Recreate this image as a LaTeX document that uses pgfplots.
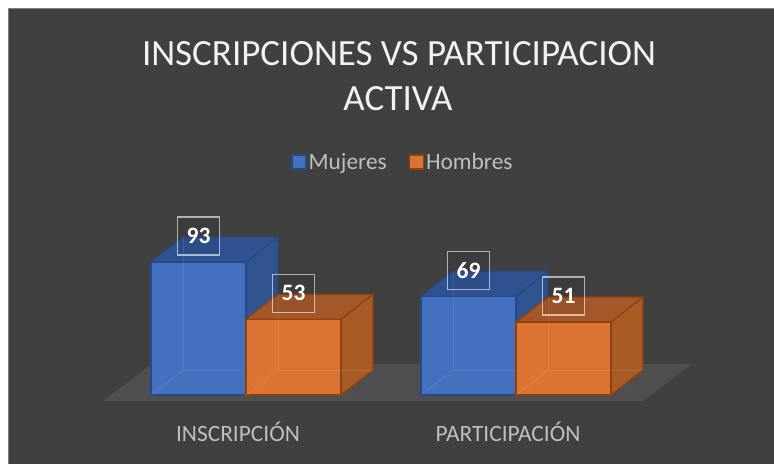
\documentclass[border=0pt]{standalone}
\usepackage{pgfplots}
\pgfplotsset{compat=1.18}
\usepackage{pgfplotstable}
\usepackage{fontspec}
\setmainfont{Carlito}
\definecolor{bg}{HTML}{404040}
\definecolor{floorc}{HTML}{4F4F4F}
\definecolor{bluef}{HTML}{4371BF}
\definecolor{blues}{HTML}{30548F}
\definecolor{bluet}{HTML}{2F5290}
\definecolor{blueb}{HTML}{264A85}
\definecolor{orangef}{HTML}{DB7432}
\definecolor{oranges}{HTML}{A95B25}
\definecolor{oranget}{HTML}{A4582A}
\definecolor{orangeb}{HTML}{8E420F}
\definecolor{labgray}{HTML}{BFBFBF}
\definecolor{titlec}{HTML}{F2F2F2}

\pgfplotstableread{
cat muj hom
0 93 53
1 69 51
}\datatab

\pgfdeclareplotmark{nothing}{}

\begin{document}
\begin{tikzpicture}
\useasboundingbox (0pt,0pt) rectangle (774pt,-464pt);
\fill[white] (0pt,0pt) rectangle (774pt,-464pt);
\fill[bg] (9pt,-9pt) rectangle (774pt,-464pt);
\draw[gray, line width=1pt] (8.5pt,-464pt) -- (8.5pt,-8.5pt) -- (774pt,-8.5pt);
% floor
\fill[floorc] (103pt,-401pt) -- (643pt,-401pt) -- (692pt,-364pt) -- (152pt,-364pt) -- cycle;
% title
\node[text=titlec, font=\fontsize{37}{45}\selectfont] at (399pt,-54pt) {INSCRIPCIONES VS PARTICIPACION};
\node[text=titlec, font=\fontsize{37}{45}\selectfont] at (398pt,-99pt) {ACTIVA};

\begin{axis}[
  anchor=origin, at={(246pt,-395pt)},
  x=270pt, y=1.43pt,
  xmin=-0.7, xmax=1.7, ymin=0, ymax=110,
  clip=false, clip marker paths=true,
  axis line style={draw=none},
  major tick length=0pt,
  ytick=\empty,
  xtick={0,1},
  xticklabels={INSCRIPCIÓN, PARTICIPACIÓN},
  xticklabel style={font=\fontsize{23.4}{28}\selectfont, text=labgray, anchor=center, xshift=-8pt, yshift=-37pt},
  legend style={at={(axis cs:0.5815,163)}, anchor=center, draw=none, fill=none,
    text=labgray, font=\fontsize{23.4}{28}\selectfont, inner sep=0pt,
    /tikz/every even column/.append style={column sep=20pt}},
  legend columns=2,
  legend image code/.code={\draw[#1, line width=1.2pt] (0pt,-7pt) rectangle (14pt,7pt);},
  /pgf/number format/assume math mode=true,
  nodes near coords style={font=\bfseries\fontsize{23.5}{28}\selectfont, text=white,
    draw=white, draw opacity=0.6, line width=1.4pt, fill=black, fill opacity=0.06, text opacity=1,
    minimum width=42pt, minimum height=38pt, inner sep=0pt, anchor=center, yshift=26pt},
]
% Mujeres: side and top faces
\addplot[forget plot, scatter, only marks, mark=nothing,
  visualization depends on={\thisrow{muj} \as \val},
  scatter/@pre marker code/.code={%
    \pgfmathsetmacro\h{\val*1.43}%
    \filldraw[fill=blues, draw=blueb, line width=1.2pt, line join=round]
      (0pt,0pt) -- (32pt,25pt) -- ({32pt},{25pt-\h pt}) -- ({0pt},{-\h pt}) -- cycle;
    \filldraw[fill=bluet, draw=blueb, line width=1.2pt, line join=round]
      (0pt,0pt) -- (-95pt,0pt) -- (-63pt,25pt) -- (32pt,25pt) -- cycle;
  },
  scatter/@post marker code/.code={}]
  table[x=cat, y=muj]{\datatab};
% Mujeres: front face
\addplot[ybar, bar width=95pt, bar shift=-47.5pt, fill=bluef, draw=blueb, line width=1.2pt,
  nodes near coords, every node near coord/.append style={xshift=-47.5pt}]
  table[x=cat, y=muj]{\datatab};
\addlegendentry{Mujeres}
% Mujeres: hidden edges seen through the translucent box
\addplot[forget plot, scatter, only marks, mark=nothing,
  visualization depends on={\thisrow{muj} \as \val},
  scatter/@pre marker code/.code={%
    \pgfmathsetmacro\h{\val*1.43}%
    \draw[white, opacity=0.09, line width=1pt]
      (-63pt,25pt) -- ({-63pt},{25pt-\h pt}) -- ({32pt},{25pt-\h pt});
    \draw[white, opacity=0.09, line width=1pt]
      ({-95pt},{-\h pt}) -- ({-63pt},{25pt-\h pt});
  },
  scatter/@post marker code/.code={}]
  table[x=cat, y=muj]{\datatab};
% Hombres: side and top faces
\addplot[forget plot, scatter, only marks, mark=nothing,
  visualization depends on={\thisrow{hom} \as \val},
  scatter/@pre marker code/.code={%
    \pgfmathsetmacro\h{\val*1.43}%
    \filldraw[fill=oranges, draw=orangeb, line width=1.2pt, line join=round]
      (95pt,0pt) -- (127pt,25pt) -- ({127pt},{25pt-\h pt}) -- ({95pt},{-\h pt}) -- cycle;
    \filldraw[fill=oranget, draw=orangeb, line width=1.2pt, line join=round]
      (0pt,0pt) -- (95pt,0pt) -- (127pt,25pt) -- (32pt,25pt) -- cycle;
  },
  scatter/@post marker code/.code={}]
  table[x=cat, y=hom]{\datatab};
% Hombres: front face
\addplot[ybar, bar width=95pt, bar shift=47.5pt, fill=orangef, draw=orangeb, line width=1.2pt,
  nodes near coords, every node near coord/.append style={xshift=47.5pt}]
  table[x=cat, y=hom]{\datatab};
\addlegendentry{Hombres}
% Hombres: hidden edges
\addplot[forget plot, scatter, only marks, mark=nothing,
  visualization depends on={\thisrow{hom} \as \val},
  scatter/@pre marker code/.code={%
    \pgfmathsetmacro\h{\val*1.43}%
    \draw[white, opacity=0.09, line width=1pt]
      (32pt,25pt) -- ({32pt},{25pt-\h pt}) -- ({127pt},{25pt-\h pt});
    \draw[white, opacity=0.09, line width=1pt]
      ({0pt},{-\h pt}) -- ({32pt},{25pt-\h pt});
  },
  scatter/@post marker code/.code={}]
  table[x=cat, y=hom]{\datatab};
\end{axis}
\end{tikzpicture}
\end{document}
